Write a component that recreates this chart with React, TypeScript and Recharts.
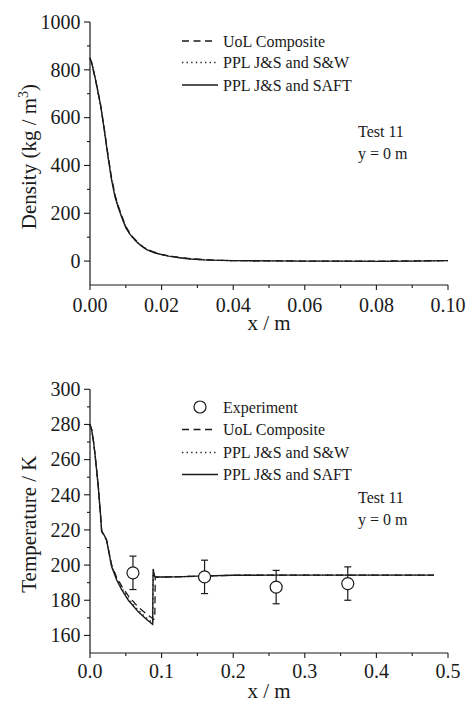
import React from "react";
import {
  LineChart,
  ComposedChart,
  Line,
  Scatter,
  ErrorBar,
  XAxis,
  YAxis,
  Customized,
} from "recharts";

const FONT = "'Liberation Serif', 'Times New Roman', serif";
const INK = "#1a1a1a";

// density along the axis (x in m, kg/m3)
const rhoX = [
  0, 0.0005, 0.001, 0.0015, 0.002, 0.003, 0.004, 0.005, 0.006, 0.007, 0.008, 0.009, 0.01,
  0.011, 0.012, 0.013, 0.014, 0.015, 0.016, 0.018, 0.02, 0.022, 0.025, 0.028, 0.032, 0.036,
  0.04, 0.05, 0.06, 0.07, 0.08, 0.09, 0.1,
];
const rhoUoL = [
  848, 826, 793, 760, 724, 650, 552, 446, 350, 276, 226, 184, 145, 120, 100, 84, 70, 58, 49,
  37, 28, 22, 15, 10, 6, 3, 2, 1, 0, 0, 0, 1, 2,
];
const rhoSW = [
  850, 828, 795, 762, 725, 649, 550, 443, 345, 271, 222, 180, 141, 117, 98, 82, 68, 57, 48,
  36, 27, 21, 14, 9, 5, 3, 2, 1, 0, 0, -1, 0, 2,
];
const rhoSAFT = [
  850, 828, 795, 762, 725, 648, 548, 440, 342, 268, 220, 178, 140, 116, 97, 81, 67, 56, 47,
  35, 27, 21, 14, 9, 5, 3, 2, 1, 0, 0, -1, 0, 2,
];

// temperature along the axis (x in m, K)
const tX = [
  0, 0.0023, 0.005, 0.007, 0.0095, 0.0116, 0.013, 0.015, 0.0163, 0.0198, 0.0233, 0.0265,
  0.0303, 0.0373, 0.0443, 0.0536, 0.0675, 0.078, 0.086, 0.0875, 0.0882, 0.089, 0.0905,
  0.0912, 0.1, 0.12, 0.15, 0.2, 0.25, 0.3, 0.35, 0.4, 0.48,
];
const tUoL = [
  280, 277, 270, 263, 253, 244.5, 237, 227, 219.5, 217, 214, 207.5, 200, 193, 188, 182.5,
  176, 172.5, 170, 169.6, 169.3, 169, 169.5, 193, 193.2, 193.3, 193.7, 194.2, 194.3, 194.3,
  194.3, 194.3, 194.3,
];
const tSW = [
  280, 277, 270, 263, 253, 244.5, 237, 227, 219, 217, 214, 207, 199.5, 192.3, 187, 181,
  174.3, 170.3, 167.5, 167, 195, 195.5, 193.5, 193.3, 193.2, 193.3, 193.7, 194.2, 194.3,
  194.3, 194.3, 194.3, 194.3,
];
const tSAFT = [
  280, 277, 270, 263, 253, 244.5, 237, 227, 219, 217, 214, 207, 199, 191.5, 186, 180, 173.4,
  169.5, 166.8, 166.3, 197.8, 196, 193.5, 193.3, 193.2, 193.3, 193.7, 194.2, 194.3, 194.3,
  194.3, 194.3, 194.3,
];

// experiment
const expX = [0.06, 0.16, 0.26, 0.36];
const expT = [195.6, 193.3, 187.5, 189.5];
const expErr = [9.5, 9.5, 9.5, 9.5];

// ticks (majors get labels)
const rhoXTicks = [0, 0.01, 0.02, 0.03, 0.04, 0.05, 0.06, 0.07, 0.08, 0.09, 0.1];
const rhoYTicks = [0, 100, 200, 300, 400, 500, 600, 700, 800, 900, 1000];
const tXTicks = [0, 0.05, 0.1, 0.15, 0.2, 0.25, 0.3, 0.35, 0.4, 0.45, 0.5];
const tYTicks = [160, 170, 180, 190, 200, 210, 220, 230, 240, 250, 260, 270, 280, 290, 300];

const rhoData = rhoX.map((x, i) => ({ x, uol: rhoUoL[i], sw: rhoSW[i], saft: rhoSAFT[i] }));
const tData = tX.map((x, i) => ({ x, uol: tUoL[i], sw: tSW[i], saft: tSAFT[i] }));
const expData = expX.map((x, i) => ({ x, t: expT[i], err: expErr[i] }));

const isMajor = (v: number, step: number) => Math.abs(v / step - Math.round(v / step)) < 1e-6;

const yTick = (step: number, digits: number) => (props: any) => {
  const { x, y, payload } = props;
  const major = isMajor(payload.value, step);
  const len = major ? 6 : 3;
  return (
    <g>
      <line x1={x} x2={x - len} y1={y} y2={y} stroke={INK} strokeWidth={1.1} />
      {major && (
        <text x={x - len - 3.5} y={y} dy="0.34em" textAnchor="end" fontFamily={FONT} fontSize={20} fill={INK}>
          {payload.value.toFixed(digits)}
        </text>
      )}
    </g>
  );
};

const xTick = (step: number, digits: number, gap: number) => (props: any) => {
  const { x, y, payload } = props;
  const major = isMajor(payload.value, step);
  const len = major ? 5 : 3;
  return (
    <g>
      <line x1={x} x2={x} y1={y} y2={y + len} stroke={INK} strokeWidth={1.1} />
      {major && (
        <text x={x} y={y + gap} textAnchor="middle" fontFamily={FONT} fontSize={20} fill={INK}>
          {payload.value.toFixed(digits)}
        </text>
      )}
    </g>
  );
};

const xLabel = (props: any) => {
  const { x, y, width } = props.viewBox;
  return (
    <text x={x + width / 2} y={y + 45} textAnchor="middle" fontFamily={FONT} fontSize={21} fill={INK}>
      x / m
    </text>
  );
};

const yLabel = (content: React.ReactNode) => (props: any) => {
  const { y, height } = props.viewBox;
  const cx = 36;
  const cy = y + height / 2 + 3;
  return (
    <text
      x={cx}
      y={cy}
      transform={`rotate(-90, ${cx}, ${cy})`}
      textAnchor="middle"
      fontFamily={FONT}
      fontSize={21}
      fill={INK}
    >
      {content}
    </text>
  );
};

const DASH = "7 4.5";
const DOT = "1.3 3.3";

function LegendRows({ rows, top }: { rows: number[]; top: number }) {
  const names = ["UoL Composite", "PPL J&S and S&W", "PPL J&S and SAFT"];
  const dashes = [DASH, DOT, undefined];
  const ends = [212, 218, 218];
  return (
    <g fontFamily={FONT} fontSize={16} fill={INK}>
      {names.map((n, i) => (
        <g key={n}>
          <line
            x1={182}
            x2={ends[i]}
            y1={rows[i] - top}
            y2={rows[i] - top}
            stroke={INK}
            strokeWidth={1.3}
            strokeDasharray={dashes[i]}
          />
          <text x={223} y={rows[i] - top + 5.5}>
            {n}
          </text>
        </g>
      ))}
    </g>
  );
}

function TopNotes() {
  return (
    <g>
      <LegendRows rows={[41, 62.5, 85]} top={0} />
      <g fontFamily={FONT} fontSize={16} fill={INK}>
        <text x={358} y={136.5}>Test 11</text>
        <text x={358} y={158.5}>y = 0 m</text>
      </g>
    </g>
  );
}

function BottomNotes() {
  return (
    <g>
      <circle cx={200} cy={67} r={6} fill="#fff" stroke={INK} strokeWidth={1.2} />
      <text x={223} y={72.5} fontFamily={FONT} fontSize={16} fill={INK}>
        Experiment
      </text>
      <LegendRows rows={[429.5, 452.5, 474.5]} top={340} />
      <g fontFamily={FONT} fontSize={16} fill={INK}>
        <text x={358} y={162.8}>Test 11</text>
        <text x={358} y={184.5}>y = 0 m</text>
      </g>
    </g>
  );
}

function DensityChart() {
  return (
    <LineChart width={470} height={340} data={rhoData} margin={{ top: 22, right: 22, bottom: 0, left: 0 }}>
      <XAxis
        dataKey="x"
        type="number"
        domain={[0, 0.1]}
        ticks={rhoXTicks}
        interval={0}
        height={55}
        tickSize={0}
        tickMargin={0}
        tickLine={false}
        axisLine={{ stroke: INK, strokeWidth: 1.2 }}
        tick={xTick(0.02, 2, 26.5)}
        label={xLabel}
      />
      <YAxis
        type="number"
        domain={[-100, 1000]}
        ticks={rhoYTicks}
        interval={0}
        width={90}
        tickSize={0}
        tickMargin={0}
        tickLine={false}
        axisLine={{ stroke: INK, strokeWidth: 1.2 }}
        tick={yTick(200, 0)}
        label={yLabel(
          <>
            Density (kg / m<tspan dy={-8} fontSize={14}>3</tspan>
            <tspan dy={8}>)</tspan>
          </>
        )}
      />
      <Line dataKey="uol" stroke={INK} strokeWidth={1.3} strokeDasharray={DASH} dot={false} isAnimationActive={false} />
      <Line dataKey="sw" stroke={INK} strokeWidth={1.3} strokeDasharray={DOT} dot={false} isAnimationActive={false} />
      <Line dataKey="saft" stroke={INK} strokeWidth={1.4} dot={false} isAnimationActive={false} />
      <Customized component={<TopNotes />} />
    </LineChart>
  );
}

function TemperatureChart() {
  return (
    <ComposedChart width={470} height={364} data={tData} margin={{ top: 49.3, right: 22, bottom: 0, left: 0 }}>
      <XAxis
        dataKey="x"
        type="number"
        domain={[0, 0.5]}
        ticks={tXTicks}
        interval={0}
        height={51}
        tickSize={0}
        tickMargin={0}
        tickLine={false}
        axisLine={{ stroke: INK, strokeWidth: 1.2 }}
        tick={xTick(0.1, 1, 24.5)}
        label={xLabel}
      />
      <YAxis
        type="number"
        domain={[150, 300]}
        ticks={tYTicks}
        interval={0}
        width={90}
        tickSize={0}
        tickMargin={0}
        tickLine={false}
        axisLine={{ stroke: INK, strokeWidth: 1.2 }}
        tick={yTick(20, 0)}
        label={yLabel("Temperature / K")}
      />
      <Scatter
        data={expData}
        dataKey="t"
        isAnimationActive={false}
        shape={(p: any) => <circle cx={p.cx} cy={p.cy} r={6} fill="#fff" stroke={INK} strokeWidth={1.2} />}
      >
        <ErrorBar dataKey="err" direction="y" width={3.5} stroke={INK} strokeWidth={1.2} />
      </Scatter>
      <Line dataKey="uol" stroke={INK} strokeWidth={1.3} strokeDasharray={DASH} dot={false} isAnimationActive={false} />
      <Line dataKey="sw" stroke={INK} strokeWidth={1.3} strokeDasharray={DOT} dot={false} isAnimationActive={false} />
      <Line dataKey="saft" stroke={INK} strokeWidth={1.4} dot={false} isAnimationActive={false} />
      <Customized component={<BottomNotes />} />
    </ComposedChart>
  );
}

export default function App() {
  return (
    <div style={{ position: "absolute", left: 0, top: 0, width: 470, height: 704, background: "#fff" }}>
      <div style={{ position: "absolute", left: 0, top: 0 }}>
        <DensityChart />
      </div>
      <div style={{ position: "absolute", left: 0, top: 340 }}>
        <TemperatureChart />
      </div>
    </div>
  );
}
